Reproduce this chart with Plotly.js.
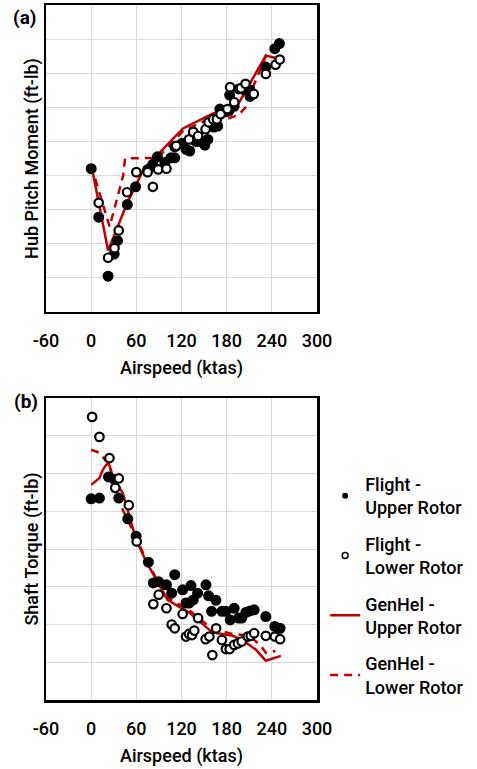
<!DOCTYPE html>
<html>
<head>
<meta charset="utf-8">
<script src="https://cdn.plot.ly/plotly-3.0.1.min.js"></script>
<style>html,body{margin:0;padding:0;background:#fff;}#chart{width:477px;height:769px;}</style>
</head>
<body>
<div id="chart"></div>
<script>
// (a) Hub pitch moment (arbitrary units, no tick labels in source)
const a_flightUpper_x = [0, 10, 22.5, 30.5, 35, 48, 59, 75, 82, 88, 98, 106, 111, 121, 126, 131, 139, 144, 151, 155, 159, 163, 168, 171, 179, 183, 184, 190, 196, 203, 211, 215, 211, 232, 244, 250];
const a_flightUpper_y = [4.2, 2.78, 1.05, 1.70, 2.09, 3.15, 3.67, 4.17, 4.33, 4.55, 4.38, 4.52, 4.52, 4.95, 4.77, 4.72, 5.0, 5.0, 4.89, 5.06, 5.45, 5.42, 5.45, 5.95, 5.87, 5.9, 6.36, 6.03, 6.54, 6.52, 6.51, 6.39, 6.32, 7.18, 7.72, 7.87];
const a_flightLower_x = [10, 22.5, 31, 36.6, 47.7, 60, 75, 82, 89, 100, 111, 113, 130, 135.6, 142, 152, 156, 162, 167, 172, 181, 184.6, 190, 199, 205, 216, 232, 245, 250.5];
const a_flightLower_y = [3.2, 1.59, 1.87, 2.39, 3.51, 4.1, 4.1, 3.67, 4.18, 4.2, 4.84, 4.87, 5.06, 5.28, 5.16, 5.36, 5.56, 5.65, 5.65, 5.8, 5.95, 6.59, 6.15, 6.56, 6.69, 6.39, 6.98, 7.25, 7.4];
const a_genhelUpper_x = [0, 22.5, 48, 70, 122, 162, 183, 196, 232, 250];
const a_genhelUpper_y = [4.33, 1.8, 3.2, 4.2, 5.38, 5.82, 5.97, 6.12, 7.52, 7.42];
const a_genhelLower_x = [0, 24.5, 42.5, 45, 88, 122, 162, 183, 196, 205, 211, 232, 250];
const a_genhelLower_y = [4.3, 2.5, 4.0, 4.5, 4.52, 5.3, 5.72, 5.68, 5.78, 6.0, 6.38, 7.5, 7.42];

// (b) Shaft torque (arbitrary units)
const b_flightUpper_x = [0, 11, 23, 31, 36.7, 48.6, 59.7, 76, 82.6, 89.7, 100, 107, 111, 121.5, 126, 130, 132.6, 135.6, 141.4, 152.5, 156, 160, 165.7, 173.7, 179, 184.7, 190, 195.8, 200, 205.5, 211, 216.5, 232, 244, 251];
const b_flightUpper_y = [5.33, 5.35, 5.91, 5.84, 5.35, 4.8, 4.34, 3.65, 3.1, 3.13, 3.05, 2.83, 3.32, 2.92, 2.57, 2.57, 3.03, 2.65, 2.83, 3.05, 2.76, 2.35, 2.64, 2.35, 2.35, 2.12, 2.43, 2.17, 2.17, 2.32, 2.36, 2.39, 2.21, 1.95, 1.9];
const b_flightLower_x = [1.3, 11, 24.3, 32, 36.7, 50, 60.5, 82.6, 89.7, 100, 107, 111, 121.5, 126, 130, 134, 137, 142, 152, 157, 161, 166, 173.7, 179, 184, 190, 195, 200, 208, 212, 216.5, 232, 244, 251];
const b_flightLower_y = [7.5, 6.97, 6.41, 5.62, 5.87, 5.16, 4.2, 2.54, 2.79, 2.43, 2.0, 1.9, 2.28, 1.68, 1.75, 1.72, 1.84, 2.17, 1.61, 1.68, 1.19, 1.9, 1.59, 1.35, 1.35, 1.46, 1.5, 1.55, 1.68, 1.7, 1.77, 1.7, 1.68, 1.61];
const b_genhelUpper_x = [0, 11, 15.5, 20, 23.5, 28.7, 42, 59.7, 73, 101.6, 130, 161, 188, 201, 219, 232, 252];
const b_genhelUpper_y = [5.70, 5.88, 6.1, 6.23, 6.27, 5.92, 5.48, 4.25, 3.67, 2.65, 2.32, 1.79, 1.7, 1.59, 1.33, 1.04, 1.17];
const b_genhelLower_x = [0, 11, 19, 24, 33, 38, 60, 73, 101.6, 130, 161, 188, 210, 225, 232, 245];
const b_genhelLower_y = [6.63, 6.55, 6.35, 6.25, 5.48, 5.2, 4.3, 3.7, 2.7, 2.38, 1.88, 1.75, 1.7, 1.45, 1.25, 1.3];

const legendNames = ['Flight -<br>Upper Rotor', 'Flight -<br>Lower Rotor', 'GenHel -<br>Upper Rotor', 'GenHel -<br>Lower Rotor'];
const xTicks = [-60, 0, 60, 120, 180, 240, 300];

const RED = '#c00000';
const FONT = 'Roboto, "Liberation Sans", sans-serif';
const W = 500;
const filledMarker = {symbol: 'circle', size: 9.5, color: '#000', line: {color: '#000', width: 1.5}};
const openMarker = {symbol: 'circle', size: 8.5, color: '#fff', line: {color: '#000', width: 2.2}};

function lineTrace(x, y, dash, xa, ya) {
  return {x: x, y: y, xaxis: xa, yaxis: ya, type: 'scatter', mode: 'lines',
    line: {color: RED, width: 2.5, dash: dash}, showlegend: false, hoverinfo: 'skip'};
}
function ptTrace(x, y, marker, xa, ya) {
  return {x: x, y: y, xaxis: xa, yaxis: ya, type: 'scatter', mode: 'markers',
    marker: marker, showlegend: false, cliponaxis: false};
}

const traces = [
  lineTrace(a_genhelUpper_x, a_genhelUpper_y, 'solid', 'x', 'y'),
  lineTrace(a_genhelLower_x, a_genhelLower_y, '8px,6px', 'x', 'y'),
  ptTrace(a_flightUpper_x, a_flightUpper_y, filledMarker, 'x', 'y'),
  ptTrace(a_flightLower_x, a_flightLower_y, openMarker, 'x', 'y'),
  lineTrace(b_genhelUpper_x, b_genhelUpper_y, 'solid', 'x2', 'y2'),
  lineTrace(b_genhelLower_x, b_genhelLower_y, '8px,6px', 'x2', 'y2'),
  ptTrace(b_flightUpper_x, b_flightUpper_y, filledMarker, 'x2', 'y2'),
  ptTrace(b_flightLower_x, b_flightLower_y, openMarker, 'x2', 'y2'),
  // legend entries
  {x: [null], y: [null], xaxis: 'x2', yaxis: 'y2', type: 'scatter', mode: 'markers', name: legendNames[0], legendgroup: 'g1',
    marker: {symbol: 'circle', size: 6, color: '#000'}},
  {x: [null], y: [null], xaxis: 'x2', yaxis: 'y2', type: 'scatter', mode: 'markers', name: legendNames[1], legendgroup: 'g2',
    marker: {symbol: 'circle', size: 6, color: '#fff', line: {color: '#000', width: 1.5}}},
  {x: [null], y: [null], xaxis: 'x2', yaxis: 'y2', type: 'scatter', mode: 'lines', name: legendNames[2], legendgroup: 'g3',
    line: {color: RED, width: 2.5}},
  {x: [null], y: [null], xaxis: 'x2', yaxis: 'y2', type: 'scatter', mode: 'lines', name: legendNames[3], legendgroup: 'g4',
    line: {color: RED, width: 2.5, dash: '8px,6px'}}
];

function xAxis(anchor) {
  return {anchor: anchor, range: [-60, 300], tickvals: xTicks, ticktext: xTicks.map(String),
    showgrid: true, gridcolor: '#d9d9d9', gridwidth: 1, zeroline: false,
    showline: true, linecolor: '#000', linewidth: 2.5, mirror: true,
    ticks: '', ticklabelstandoff: 11, tickfont: {family: FONT, size: 18, color: '#000', weight: W},
    title: {text: 'Airspeed (ktas)', font: {family: FONT, size: 18, color: '#000', weight: W}, standoff: 12}};
}
function yAxis(anchor, top, domain, title) {
  return {anchor: anchor, domain: domain, range: [0, top], dtick: 1, showticklabels: false,
    showgrid: true, gridcolor: '#d9d9d9', gridwidth: 1, zeroline: false,
    showline: true, linecolor: '#000', linewidth: 2.5, mirror: true, ticks: '',
    title: {text: title, font: {family: FONT, size: 18, color: '#000', weight: W}, standoff: 0}};
}

const layout = {
  width: 477, height: 769,
  margin: {l: 46, r: 160, t: 5, b: 69},
  paper_bgcolor: '#fff', plot_bgcolor: '#fff',
  font: {family: FONT, color: '#000'},
  xaxis: xAxis('y'),
  yaxis: yAxis('x', 9, [0.5583, 1], 'Hub Pitch Moment (ft-lb)'),
  xaxis2: xAxis('y2'),
  yaxis2: yAxis('x2', 8, [0, 0.4345], 'Shaft Torque (ft-lb)'),
  showlegend: true,
  legend: {x: 1.03, xanchor: 'left', y: 0.337, yanchor: 'top', bgcolor: 'rgba(0,0,0,0)',
    font: {family: FONT, size: 18, color: '#000', weight: W}, tracegroupgap: 10, traceorder: 'grouped'},
  annotations: [
    {text: '<b>(a)</b>', xref: 'paper', yref: 'paper', x: -0.028, y: 1.002, xanchor: 'right', yanchor: 'top',
      showarrow: false, font: {family: FONT, size: 19, color: '#000'}},
    {text: '<b>(b)</b>', xref: 'paper', yref: 'paper', x: -0.022, y: 0.4485, xanchor: 'right', yanchor: 'top',
      showarrow: false, font: {family: FONT, size: 19, color: '#000'}}
  ]
};

Plotly.newPlot('chart', traces, layout, {staticPlot: true, displayModeBar: false});
</script>
</body>
</html>
